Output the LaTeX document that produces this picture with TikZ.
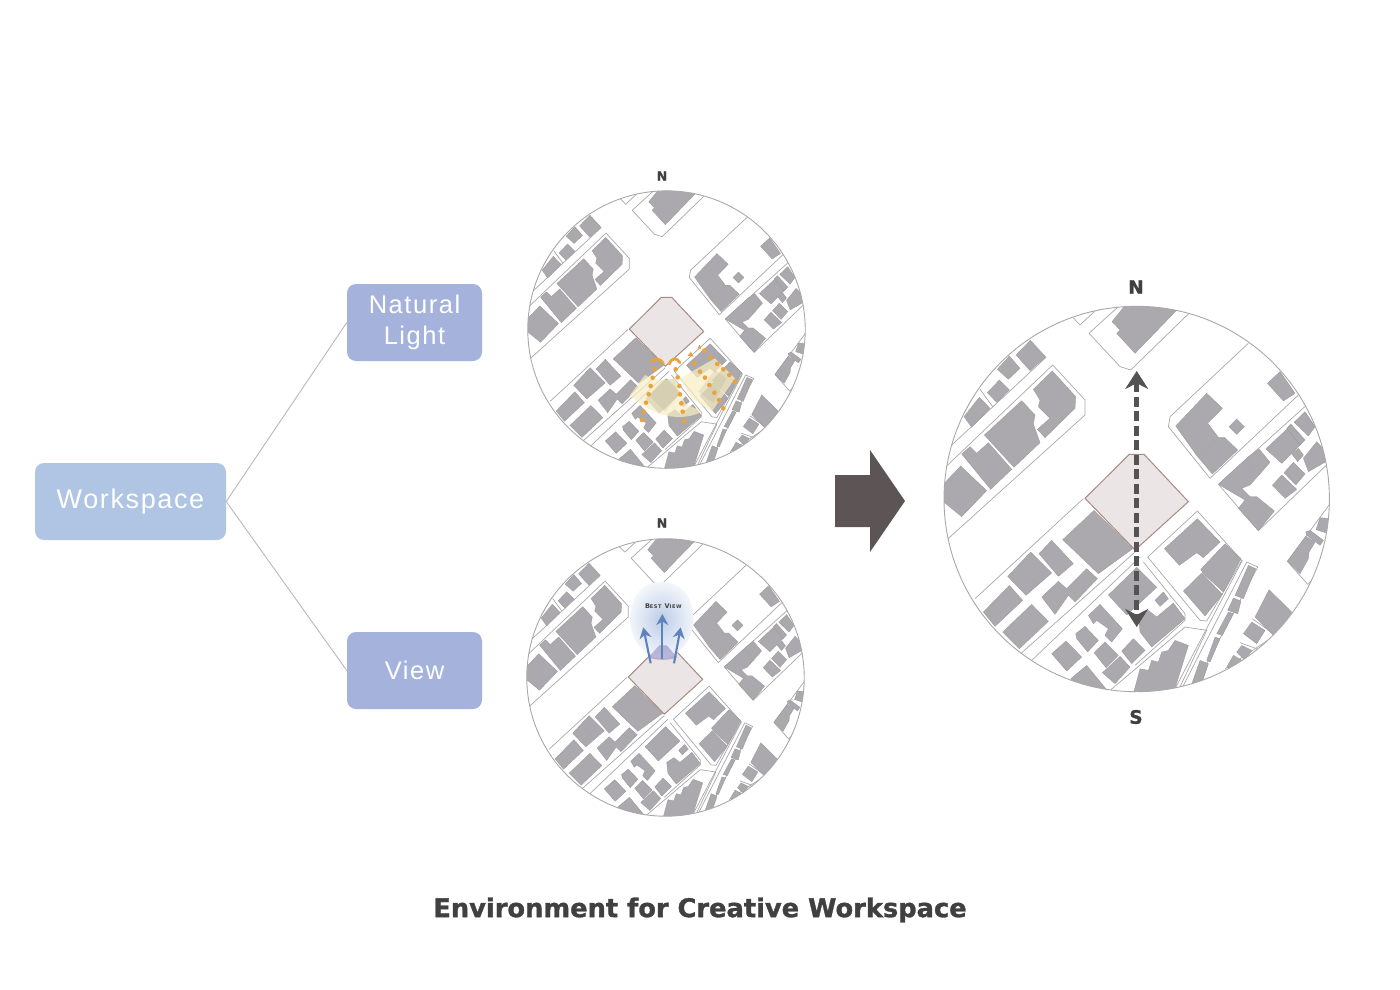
\documentclass[tikz,border=0pt]{standalone}
\usepackage{fontspec}
\usetikzlibrary{arrows.meta,shapes.geometric}
\setmainfont{Liberation Sans}[LetterSpace=6]
\newfontfamily\heavy{DejaVu Sans Bold}[FakeBold=1.2]
\newfontfamily\heavyspaced{DejaVu Sans Bold}[LetterSpace=12]
\definecolor{bldg}{HTML}{ABA9AD}
\definecolor{bldgedge}{HTML}{98969A}
\definecolor{roadline}{HTML}{A8A8A8}
\definecolor{sitefill}{HTML}{ECE5E5}
\definecolor{siteline}{HTML}{A58B80}
\definecolor{boxa}{HTML}{B0C4E3}
\definecolor{boxb}{HTML}{A5B3DC}
\definecolor{ink}{HTML}{404040}
\definecolor{sun}{HTML}{F8EDC4}
\definecolor{sundot}{HTML}{E8A33D}
\definecolor{viewblue}{HTML}{5F82BD}
\definecolor{bigarrow}{HTML}{5C5455}
\tikzset{
  bld/.style={fill=bldg,draw=bldgedge,line width=0.3pt,line join=round},
  rd/.style={draw=roadline,line width=0.7pt,line join=round},
  box/.style={rounded corners=9pt,text=white,align=center,inner sep=0pt,font=\fontsize{25.5}{31}\selectfont},
  conn/.style={draw=black!28,line width=0.9pt},
  compass/.style={font=\heavy\fontsize{12.5}{12}\selectfont,text=ink,inner sep=0pt},
  bigcompass/.style={font=\heavy\fontsize{18.5}{18}\selectfont,text=ink,inner sep=0pt},
  sunfan/.style={fill=sun,opacity=0.72},
  sunfandark/.style={fill=sun!70!black,opacity=0.2},
  dot/.style={fill=sundot,radius=7},
  crescent/.style={draw=sundot,line width=2.8pt,line cap=round},
  viewarrow/.style={draw=viewblue,line width=2.1pt,-{Stealth[length=11pt,width=12pt]}},
}
\newcommand{\sitemap}{%
  \begin{scope}
  \clip (620,687) circle [radius=578];
  % ---------- north-west quarter
  \begin{scope}[shift={(30,90)}]
    \path[rd] (398,52) -- (420,75) -- (465,33);
    \path[rd] (745,42) -- (572,210) -- (540,200) -- (447,100) -- (535,20);
    \path[bld] (516,65) -- (560,10) -- (730,10) -- (585,160) -- (530,100) -- (540,90) -- cycle;
    \path[rd] (270,120) -- (318,172) -- (30,440);
    \path[rd] (120,268) -- (158,320);
    \path[rd] (105,280) -- (60,360);
    \path[rd] (20,720) -- (435,345) -- (435,300) -- (338,195) -- (20,498);
    \path[bld] (228,165) -- (270,122) -- (315,172) -- (270,212) -- cycle;
    \path[bld] (172,208) -- (208,168) -- (240,205) -- (205,238) -- cycle;
    \path[bld] (142,278) -- (178,240) -- (208,270) -- (170,307) -- cycle;
    \path[bld] (72,350) -- (118,292) -- (150,325) -- (95,382) -- cycle;
    \path[bld] (280,268) -- (337,213) -- (407,290) -- (405,325) -- (315,413) -- (292,388) -- (330,355) -- (295,320) -- (300,300) -- cycle;
    \path[bld] (133,405) -- (245,302) -- (285,345) -- (280,372) -- (300,428) -- (222,502) -- cycle;
    \path[bld] (65,462) -- (90,440) -- (110,460) -- (145,428) -- (215,508) -- (152,568) -- cycle;
    \path[bld] (10,553) -- (62,498) -- (140,572) -- (65,650) -- (10,605) -- cycle;
  \end{scope}
  % ---------- north-east quarter
  \begin{scope}[shift={(615,90)}]
    \path[rd] (340,130) -- (105,350) -- (100,380) -- (225,535) -- (490,285);
    \path[rd] (515,315) -- (250,553) -- (370,692) -- (590,480);
    \path[bld] (122,378) -- (215,280) -- (262,325) -- (218,370) -- (250,412) -- (268,412) -- (308,450) -- (232,522) -- (186,468) -- cycle;
    \path[rd] (190,465) -- (245,420);
    \path[bld] (282,380) -- (305,357) -- (328,380) -- (305,403) -- cycle;
    \path[bld] (397,250) -- (435,215) -- (480,280) -- (445,303) -- cycle;
    \path[bld] (250,553) -- (340,470) -- (372,447) -- (405,487) -- (345,555) -- (320,565) -- (345,590) -- (365,590) -- (418,633) -- (370,692) -- (310,625) -- (330,600) -- cycle;
    \path[rd] (338,485) -- (375,525);
    \path[bld] (392,447) -- (458,385) -- (500,430) -- (440,490) -- cycle;
    \path[bld] (455,385) -- (467,372) -- (510,420) -- (495,435) -- cycle;
    \path[bld] (477,367) -- (510,335) -- (540,380) -- (520,408) -- cycle;
    \path[bld] (470,462) -- (490,445) -- (505,465) -- (488,485) -- cycle;
    \path[bld] (505,475) -- (545,425) -- (590,475) -- (520,515) -- cycle;
    \path[bld] (447,518) -- (475,487) -- (510,522) -- (482,555) -- cycle;
    \path[bld] (412,556) -- (440,525) -- (485,568) -- (450,595) -- cycle;
  \end{scope}
  % ---------- site
  \path[fill=sitefill,draw=siteline,line width=1pt,line join=round] (465,685) -- (598,553) -- (642,553) -- (775,695) -- (615,840) -- cycle;
  % ---------- south-west quarter
  \begin{scope}[shift={(30,681)}]
    \path[rd] (430,5) -- (105,305);
    \path[rd] (585,165) -- (242,470);
    \path[rd] (600,180) -- (270,495);
    \path[bld] (368,128) -- (462,40) -- (578,155) -- (475,230) -- cycle;
    \path[bld] (297,170) -- (335,130) -- (400,200) -- (355,238) -- cycle;
    \path[bld] (203,238) -- (272,165) -- (335,228) -- (258,295) -- cycle;
    \path[rd] (237,205) -- (292,262);
    \path[bld] (305,300) -- (355,253) -- (380,275) -- (440,215) -- (472,245) -- (405,315) -- (385,295) -- (345,352) -- cycle;
    \path[bld] (130,345) -- (208,265) -- (248,310) -- (165,388) -- cycle;
    \path[bld] (188,405) -- (275,322) -- (325,373) -- (238,455) -- cycle;
    \path[bld] (505,294) -- (590,211) -- (650,271) -- (560,354) -- cycle;
    \path[bld] (445,355) -- (480,322) -- (547,395) -- (515,435) -- (495,415) -- (505,395) -- (470,370) -- (460,380) -- cycle;
    \path[bld] (407,410) -- (435,388) -- (475,430) -- (443,465) -- (410,425) -- cycle;
    \path[bld] (335,470) -- (378,432) -- (425,480) -- (380,522) -- cycle;
    \path[bld] (462,467) -- (495,435) -- (535,475) -- (498,512) -- cycle;
    \path[bld] (487,527) -- (540,478) -- (570,510) -- (525,560) -- cycle;
    \path[bld] (545,462) -- (580,425) -- (615,460) -- (575,500) -- cycle;
    \path[bld] (392,545) -- (440,505) -- (500,578) -- (470,610) -- cycle;
  \end{scope}
  % ---------- south-east quarter
  \begin{scope}[shift={(615,681)}]
    \path[rd] (38,180) -- (187,42) -- (320,190) -- (215,372) -- (195,370) -- cycle;
    \path[bld] (88,155) -- (187,65) -- (255,135) -- (205,182) -- (185,167) -- (133,205) -- cycle;
    \path[bld] (197,217) -- (270,140) -- (318,185) -- (265,285) -- (205,230) -- cycle;
    \path[bld] (145,282) -- (200,228) -- (262,292) -- (210,357) -- cycle;
    \path[bld] (60,310) -- (85,285) -- (100,305) -- (75,328) -- cycle;
    \path[bld] (15,405) -- (10,360) -- (40,340) -- (65,360) -- (115,318) -- (150,365) -- (50,450) -- cycle;
    \path[rd] (25,195) -- (150,350) -- (150,370) -- (0,505);
    \path[rd] (-75,580) -- (150,390) -- (215,400) -- (130,580);
    \path[bld] (-5,590) -- (15,515) -- (40,520) -- (50,490) -- (70,495) -- (80,465) -- (100,460) -- (120,430) -- (160,445) -- (115,590) -- cycle;
    \path[rd] (140,575) -- (335,195) -- (368,210) -- (175,575);
    \path[rd] (120,575) -- (322,190);
    \path[bld] (300,295) -- (340,205) -- (362,215) -- (325,305) -- cycle;
    \path[bld] (278,340) -- (295,303) -- (318,312) -- (308,350) -- cycle;
    \path[bld] (245,410) -- (280,345) -- (295,350) -- (262,415) -- cycle;
    \path[bld] (215,490) -- (240,420) -- (255,425) -- (225,495) -- cycle;
    \path[bld] (165,575) -- (195,490) -- (220,500) -- (195,575) -- cycle;
    \path[rd] (352,365) -- (415,410);
    \path[rd] (315,437) -- (365,455);
    \path[rd] (420,415) -- (270,515);
    \path[bld] (360,360) -- (402,278) -- (470,345) -- (420,420) -- cycle;
    \path[bld] (325,410) -- (350,375) -- (390,400) -- (365,440) -- cycle;
    \path[bld] (305,465) -- (320,445) -- (350,460) -- (330,490) -- cycle;
    \path[bld] (275,510) -- (295,475) -- (325,492) -- (300,520) -- cycle;
    \path[rd] (585,20) -- (457,193) -- (518,262) -- (585,190);
    \path[bld] (457,193) -- (512,118) -- (540,135) -- (522,165) -- (520,185) -- (495,230) -- cycle;
    \path[bld] (512,105) -- (525,100) -- (565,130) -- (555,145) -- (515,115) -- cycle;
    \path[bld] (543,98) -- (555,62) -- (585,65) -- (580,110) -- cycle;
  \end{scope}
  \end{scope}
  \draw[roadline,line width=0.9pt] (620,687) circle [radius=578];
}
\begin{document}
\begin{tikzpicture}[x=1pt,y=-1pt]
\useasboundingbox (0,0) rectangle (1400,990);
% boxes and connectors
\node[box,fill=boxa,minimum width=191pt,minimum height=77pt,font=\fontsize{27}{31}\selectfont] (work) at (130.5,501.5) {Workspace};
\node[box,fill=boxb,minimum width=135pt,minimum height=77pt] (nat) at (414.5,322.5) {Natural\\Light};
\node[box,fill=boxb,minimum width=135pt,minimum height=77pt] (view) at (414.5,670.5) {View};
\draw[conn] (work.east) -- (nat.west);
\draw[conn] (work.east) -- (view.west);
% top map
\begin{scope}[shift={(666.5,330.3)},x=0.24pt,y=-0.24pt]
  \begin{scope}[shift={(-620,-690)}]\sitemap\end{scope}
\end{scope}
% sunlight overlay
\begin{scope}[shift={(620,340)},x=0.3333pt,y=-0.3333pt]
  \path[sunfan] (30,165) -- (75,105) .. controls (105,122) and (135,125) .. (165,115) -- (195,190) -- (245,215) .. controls (190,245) and (100,235) .. (30,165) -- cycle;
  \path[sunfan] (180,115) -- (285,55) -- (345,115) -- (275,215) -- (215,175) -- cycle;
  \path[sunfandark] (85,165) -- (130,118) -- (165,115) -- (175,165) -- (135,215) -- cycle;
  \path[sunfandark] (235,155) -- (285,90) -- (320,115) -- (280,190) -- cycle;
  \foreach \px/\py in {105/88,98/113,92/138,86/163,78/188,71/215,66/240,167/88,173/112,178/138,180/163,184/190,188/215,192/243,222/70,240/95,255/113,268/135,283/158,297/180,310/205,253/32,272/52,292/72,310/88,328/105,345/125}
    \fill[dot] (\px,\py) circle;
  \path[crescent] (95,65) .. controls (105,55) and (120,52) .. (130,72);
  \path[crescent] (148,72) .. controls (155,52) and (170,52) .. (180,68);
  \path[fill=sundot] (203,47) -- (213,35) -- (221,50) -- cycle;
  \path[fill=sundot] (232,25) -- (239,14) -- (244,27) -- cycle;
\end{scope}
% view map
\begin{scope}[shift={(665.5,678.2)},x=0.24pt,y=-0.24pt]
  \begin{scope}[shift={(-620,-690)}]\sitemap\end{scope}
\end{scope}
% best view overlay
\begin{scope}[shift={(620,570)},x=0.3333pt,y=-0.3333pt]
  \path[inner color=boxa!85!white,outer color=boxa!15!white] (125,35) .. controls (190,35) and (222,90) .. (220,150) .. controls (218,215) and (170,265) .. (125,265) .. controls (80,265) and (32,215) .. (30,150) .. controls (28,90) and (60,35) .. (125,35) -- cycle;
  \path[fill=viewblue!70!violet,opacity=0.4] (85,262) -- (118,226) -- (140,226) -- (172,262) .. controls (150,272) and (105,272) .. (85,262) -- cycle;
  \coordinate (va1) at (92,280); \coordinate (vb1) at (70,172);
  \coordinate (va2) at (127,268); \coordinate (vb2) at (127,132);
  \coordinate (va3) at (162,280); \coordinate (vb3) at (182,172);
  \draw[viewarrow] (va1) -- (vb1);
  \draw[viewarrow] (va2) -- (vb2);
  \draw[viewarrow] (va3) -- (vb3);
  \node[inner sep=0pt,text=ink,font=\heavyspaced\fontsize{6.5}{7}\selectfont] (bestview) at (130,108) {B{\fontsize{5}{5}\selectfont EST} V{\fontsize{5}{5}\selectfont IEW}};
\end{scope}
% big map
\begin{scope}[shift={(1136.7,500)},x=0.3334pt,y=-0.3334pt]
  \begin{scope}[shift={(-620,-690)}]\sitemap\end{scope}
\end{scope}
\coordinate (north) at (1136.7,371);
\coordinate (south) at (1136.7,627);
\draw[draw=ink!90,line width=4.8pt,dash pattern=on 10pt off 4.5pt,{Stealth[length=18pt,width=23pt]}-{Stealth[length=18pt,width=23pt]}] (north) -- (south);
% big arrow
\path[fill=bigarrow] (835,475) -- (870,475) -- (870,450) -- (905,501) -- (870,552) -- (870,527) -- (835,527) -- cycle;
% compass letters
\node[compass] (n1) at (662,176) {N};
\node[compass] (n2) at (662,523) {N};
\node[bigcompass] (n3) at (1136,287) {N};
\node[bigcompass] (s3) at (1136,717) {S};
% title
\node[inner sep=0pt,text=ink,font=\heavy\fontsize{25.7}{28}\selectfont] (title) at (700,910) {Environment for Creative Workspace};
\end{tikzpicture}
\end{document}
